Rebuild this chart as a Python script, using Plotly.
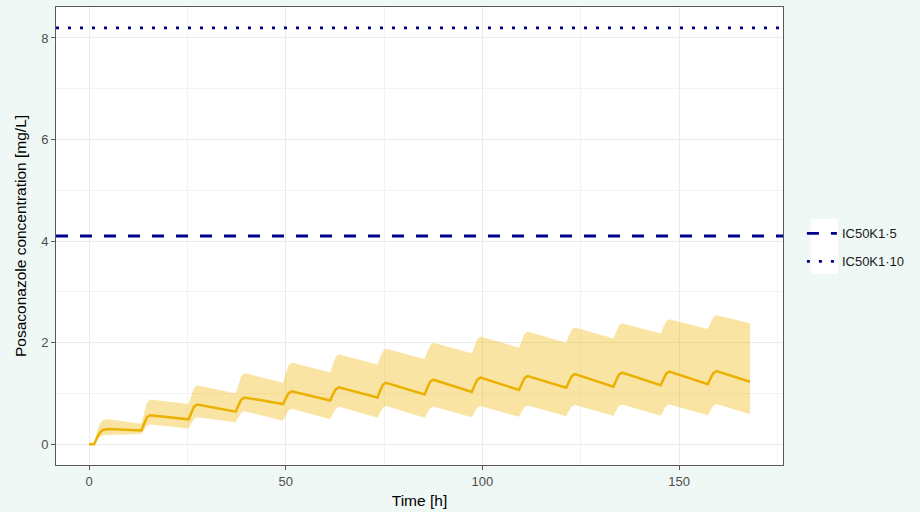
import plotly.graph_objects as go

# Simulated posaconazole exposure: median and 90% prediction band
time_h = [
    0, 1.3, 2.0, 2.7, 3.5, 5.0,
    13.3, 14.0, 14.7, 15.5,
    25.3, 26.0, 26.7, 27.5,
    37.3, 38.0, 38.7, 39.5,
    49.3, 50.0, 50.7, 51.5,
    61.3, 62.0, 62.7, 63.5,
    73.3, 74.0, 74.7, 75.5,
    85.3, 86.0, 86.7, 87.5,
    97.3, 98.0, 98.7, 99.5,
    109.3, 110.0, 110.7, 111.5,
    121.3, 122.0, 122.7, 123.5,
    133.3, 134.0, 134.7, 135.5,
    145.3, 146.0, 146.7, 147.5,
    157.3, 158.0, 158.7, 159.5,
    168.0,
]
conc_median = [
    0, 0, 0.12, 0.22, 0.28, 0.30,
    0.27, 0.41, 0.53, 0.57,
    0.49, 0.62, 0.74, 0.78,
    0.64, 0.77, 0.88, 0.92,
    0.79, 0.90, 1.00, 1.04,
    0.86, 0.98, 1.08, 1.12,
    0.92, 1.05, 1.17, 1.21,
    0.98, 1.11, 1.23, 1.27,
    1.03, 1.16, 1.27, 1.31,
    1.07, 1.19, 1.30, 1.34,
    1.11, 1.23, 1.34, 1.38,
    1.13, 1.26, 1.37, 1.41,
    1.16, 1.28, 1.39, 1.43,
    1.18, 1.30, 1.40, 1.44,
    1.23,
]
conc_upper = [
    0, 0, 0.25, 0.40, 0.47, 0.49,
    0.40, 0.62, 0.81, 0.88,
    0.79, 0.96, 1.10, 1.16,
    1.00, 1.18, 1.34, 1.40,
    1.21, 1.39, 1.55, 1.61,
    1.41, 1.57, 1.72, 1.77,
    1.57, 1.71, 1.83, 1.88,
    1.68, 1.82, 1.95, 2.00,
    1.79, 1.94, 2.07, 2.12,
    1.90, 2.04, 2.17, 2.22,
    2.00, 2.14, 2.26, 2.30,
    2.08, 2.22, 2.34, 2.38,
    2.18, 2.31, 2.42, 2.46,
    2.27, 2.39, 2.50, 2.54,
    2.38,
]
conc_lower = [
    0, 0, 0.08, 0.14, 0.17, 0.18,
    0.20, 0.29, 0.36, 0.39,
    0.31, 0.41, 0.50, 0.53,
    0.43, 0.53, 0.62, 0.65,
    0.46, 0.57, 0.66, 0.70,
    0.49, 0.60, 0.70, 0.74,
    0.52, 0.62, 0.72, 0.75,
    0.52, 0.62, 0.71, 0.74,
    0.53, 0.63, 0.72, 0.75,
    0.54, 0.64, 0.73, 0.76,
    0.55, 0.65, 0.74, 0.77,
    0.56, 0.66, 0.75, 0.78,
    0.56, 0.66, 0.75, 0.78,
    0.57, 0.67, 0.76, 0.79,
    0.59,
]

# Inhibition thresholds
ic50_k1 = 0.82
threshold_factors = [5, 10]
threshold_names = ["IC50K1·5", "IC50K1·10"]
threshold_dash = ["12px,12px", "3px,9px"]

x_ticks = [0, 50, 100, 150]
y_ticks = [0, 2, 4, 6, 8]

threshold_levels = [ic50_k1 * f for f in threshold_factors]

# ggplot-like 5% expansion of the data ranges
x_lo, x_hi = min(time_h), max(time_h)
x_pad = 0.05 * (x_hi - x_lo)
x_range = [x_lo - x_pad, x_hi + x_pad]
y_lo, y_hi = 0, max(threshold_levels)
y_pad = 0.05 * (y_hi - y_lo)
y_range = [y_lo - y_pad, y_hi + y_pad]

line_col = "#EBB000"
band_col = "rgba(240,180,0,0.36)"
thr_col = "#00008B"
font_fam = "Liberation Sans, Arial"

fig = go.Figure()

fig.add_trace(go.Scatter(
    x=time_h, y=conc_lower, mode="lines", line=dict(width=0),
    showlegend=False, hoverinfo="skip"))
fig.add_trace(go.Scatter(
    x=time_h, y=conc_upper, mode="lines", line=dict(width=0),
    fill="tonexty", fillcolor=band_col, showlegend=False, hoverinfo="skip"))
fig.add_trace(go.Scatter(
    x=time_h, y=conc_median, mode="lines",
    line=dict(color=line_col, width=2.5), showlegend=False))

for lvl, name, dash in zip(threshold_levels, threshold_names, threshold_dash):
    fig.add_trace(go.Scatter(
        x=x_range, y=[lvl, lvl], mode="lines", name=name, legendgroup=name,
        line=dict(color=thr_col, width=2.8, dash=dash)))

# white key background, as in theme_bw legends
fig.add_shape(type="rect", xref="paper", yref="paper",
              x0=1.0385, x1=1.0757, y0=0.417, y1=0.537,
              fillcolor="white", line=dict(width=0), layer="below")

axis_common = dict(
    showline=True, linecolor="#595959", linewidth=1, mirror=True,
    ticks="outside", ticklen=4, tickcolor="#595959",
    tickfont=dict(family=font_fam, size=13, color="#4D4D4D"),
    showgrid=True, gridcolor="#EBEBEB", gridwidth=1, zeroline=False,
)

fig.update_layout(
    width=920, height=512,
    margin=dict(l=56, r=137, t=7, b=47, autoexpand=False),
    paper_bgcolor="#F0F8F6", plot_bgcolor="white",
    font=dict(family=font_fam, color="black"),
    xaxis=dict(
        range=x_range, tickvals=x_ticks, **axis_common,
        minor=dict(dtick=25, tick0=0, showgrid=True, gridcolor="#F3F3F3", gridwidth=0.6),
        title=dict(text="Time [h]", font=dict(size=15.5), standoff=7),
    ),
    yaxis=dict(
        range=y_range, tickvals=y_ticks, **axis_common,
        minor=dict(dtick=1, tick0=0, showgrid=True, gridcolor="#F3F3F3", gridwidth=0.6),
        title=dict(text="Posaconazole concentration [mg/L]", font=dict(size=15.5), standoff=10),
    ),
    legend=dict(
        x=1.026, y=0.475, xanchor="left", yanchor="middle",
        bgcolor="rgba(0,0,0,0)", itemwidth=30, traceorder="grouped",
        font=dict(family=font_fam, size=13, color="#1A1A1A"),
        tracegroupgap=8,
    ),
)

fig.write_html("out.html")
